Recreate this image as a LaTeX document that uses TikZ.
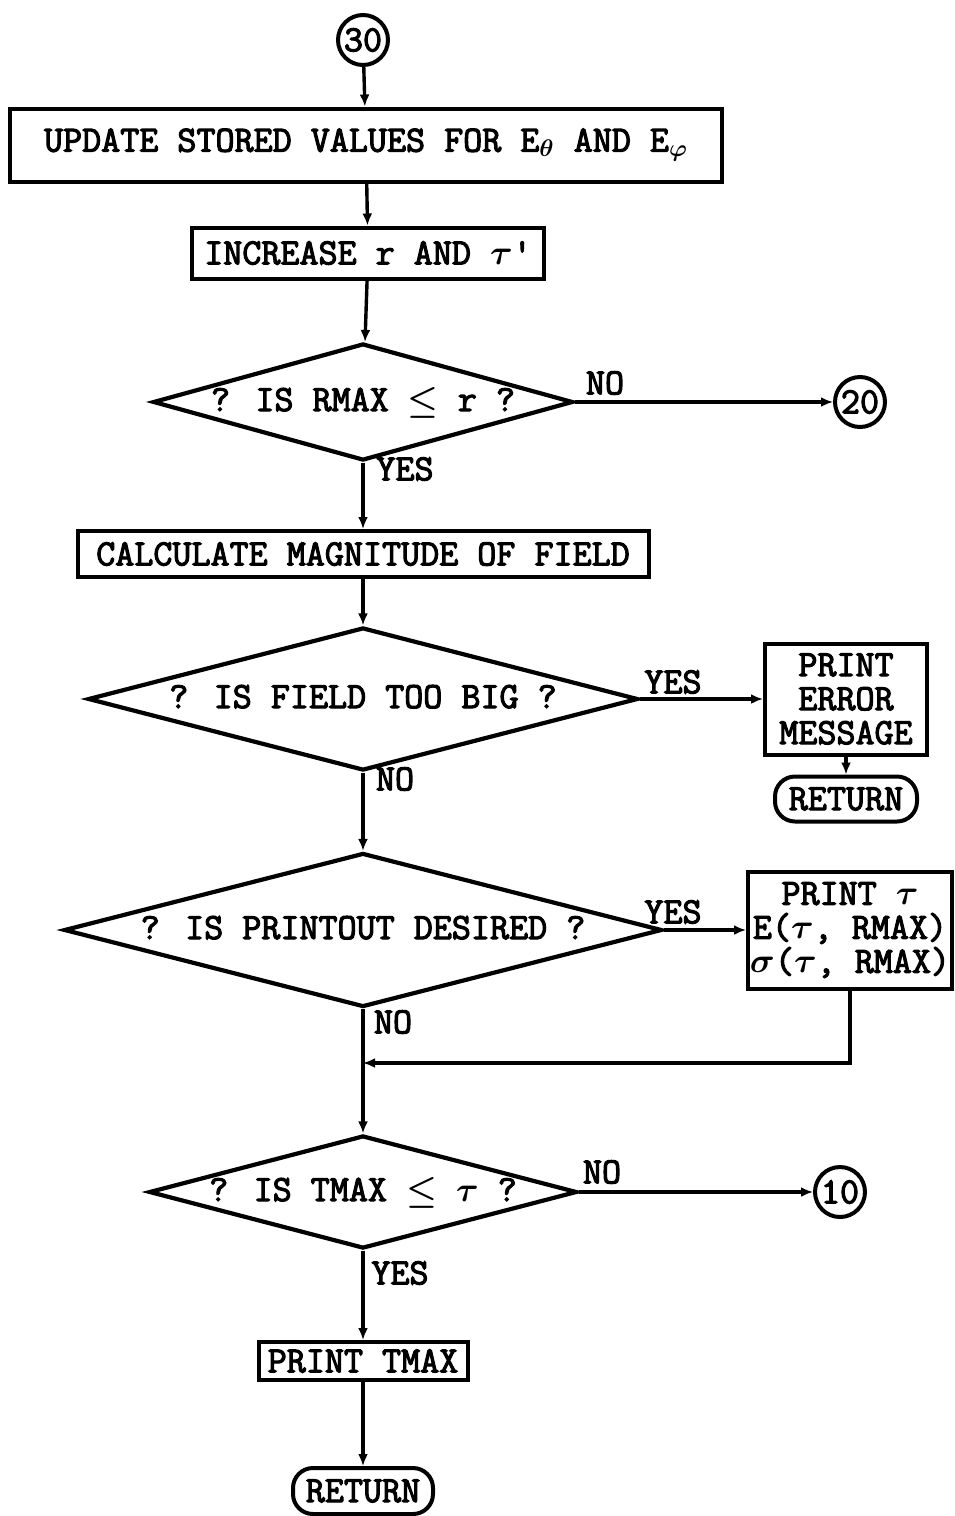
\documentclass[tikz,border=0pt]{standalone}
\usepackage{fontspec}
\usepackage{tikz}
\usetikzlibrary{shapes.geometric,arrows.meta}
\newfontfamily\flowfont{Latin Modern Mono}[FakeBold=3]

\begin{document}
\begin{tikzpicture}[x=0.5pt,y=-0.5pt,
    every node/.style={font=\flowfont\fontsize{18.5}{17}\selectfont\boldmath},
    >={Latex[length=6pt,width=5pt]},
    proc/.style={draw,line width=2pt,inner sep=0pt,align=center},
    decision/.style={draw,diamond,aspect=4,inner sep=0pt,line width=2.1pt,text height=11pt,text depth=2pt},
    term/.style={draw,rounded corners=10pt,line width=2pt,inner sep=0pt},
    conn/.style={draw,circle,line width=2pt,minimum size=25pt,inner sep=0pt},
    flow/.style={line width=1.7pt,->},
    lbl/.style={inner sep=0pt}]
	\useasboundingbox (0,0) rectangle (954,1516);
	% main column
	\node[conn] (c30) at (363,40) {30};
	\node[proc,minimum width=356pt,minimum height=36.5pt] (upd) at (366,145) {UPDATE STORED VALUES FOR E$_\theta$ AND E$_\varphi$};
	\node[proc,minimum width=176pt,minimum height=25.5pt] (incr) at (368,253) {INCREASE r AND $\tau$'};
	\node[decision,minimum width=210pt,minimum height=58.5pt] (d1) at (363,402) {? IS RMAX $\le$ r ?};
	\node[conn] (c20) at (860,402) {20};
	\node[proc,minimum width=285.5pt,minimum height=23pt] (calc) at (363,554) {CALCULATE MAGNITUDE OF FIELD};
	\node[decision,minimum width=275pt,minimum height=71.5pt] (d2) at (363,699) {? IS FIELD TOO BIG ?};
	\node[proc,minimum width=81pt,minimum height=55.5pt] (err) at (846,699) {PRINT\\ERROR\\MESSAGE};
	\node[term,minimum width=71pt,minimum height=22.5pt] (ret1) at (846,799) {RETURN};
	\node[decision,minimum width=299pt,minimum height=77pt] (d3) at (363,930) {? IS PRINTOUT DESIRED ?};
	\node[proc,minimum width=102pt,minimum height=58.5pt] (prt) at (850,930) {PRINT $\tau$\\E($\tau$, RMAX)\\$\sigma$($\tau$, RMAX)};
	\coordinate (join) at (363,1063);
	\node[decision,minimum width=214pt,minimum height=56.5pt] (d4) at (363,1192) {? IS TMAX $\le$ $\tau$ ?};
	\node[conn] (c10) at (840,1192) {10};
	\node[proc,minimum width=104.5pt,minimum height=19pt] (ptm) at (363,1361) {PRINT TMAX};
	\node[term,minimum width=70pt,minimum height=23pt] (ret2) at (363,1491) {RETURN};
	% branch labels
	\node[lbl] (no1) at (605,383) {NO};
	\node[lbl] (yes1) at (405,469) {YES};
	\node[lbl] (yes2) at (673,682) {YES};
	\node[lbl] (no2) at (395,779) {NO};
	\node[lbl] (yes3) at (673,912) {YES};
	\node[lbl] (no3) at (393,1022) {NO};
	\node[lbl] (no4) at (602,1172) {NO};
	\node[lbl] (yes4) at (400,1273) {YES};
	% connectors
	\draw[flow] (c30) -- (upd);
	\draw[flow] (upd) -- (incr);
	\draw[flow] (incr) -- (d1);
	\draw[flow] (d1) -- (c20);
	\draw[flow] (d1) -- (calc);
	\draw[flow] (calc) -- (d2);
	\draw[flow] (d2) -- (err);
	\draw[flow] (err) -- (ret1);
	\draw[flow] (d2) -- (d3);
	\draw[flow] (d3) -- (prt);
	\draw[flow] (d3) -- (d4);
	\draw[flow] (prt.south) |- (join);
	\draw[flow] (d4) -- (c10);
	\draw[flow] (d4) -- (ptm);
	\draw[flow] (ptm) -- (ret2);
\end{tikzpicture}
\end{document}
